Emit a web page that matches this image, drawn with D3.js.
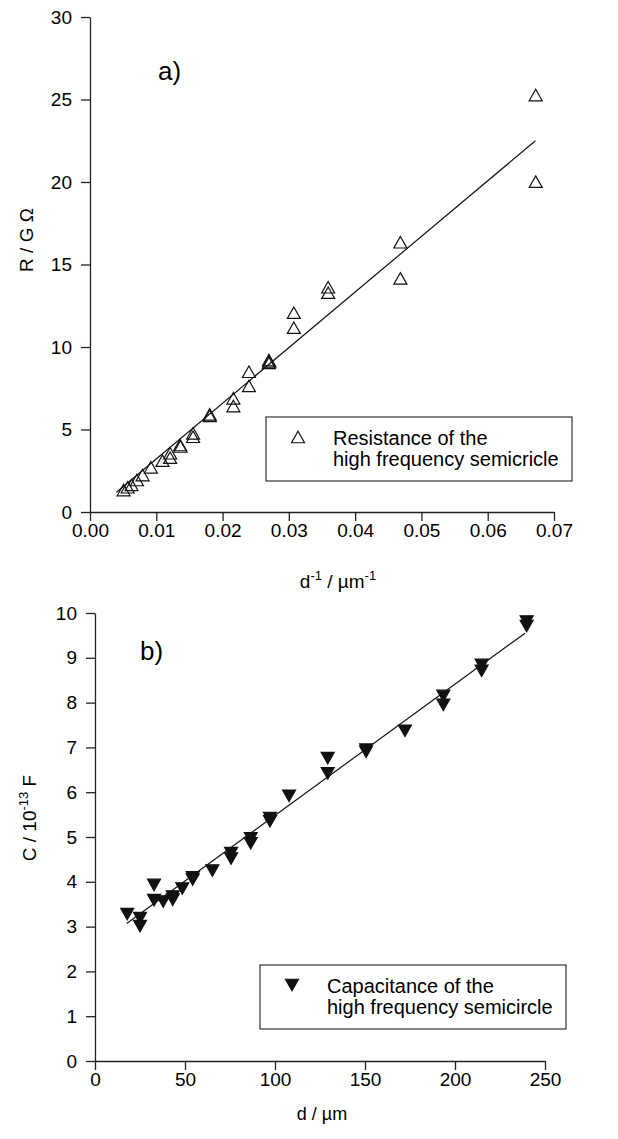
<!DOCTYPE html>
<html><head><meta charset="utf-8">
<script src="https://cdn.jsdelivr.net/npm/d3@7/dist/d3.min.js"></script>
<style>
body{margin:0;background:#fff;}
text{font-family:"Liberation Sans",Arial,Helvetica,sans-serif;fill:#000;}
</style></head><body>
<svg id="chart" width="618" height="1139"></svg>
<script>
// ---- Panel a) : resistance vs inverse thickness ----
const rX = [0.06724, 0.06724, 0.04682, 0.04682, 0.03593, 0.03593, 0.03075, 0.03075,
            0.02699, 0.02705, 0.02699, 0.02398, 0.02398, 0.02163, 0.02163, 0.01806, 0.01806,
            0.01555, 0.01555, 0.01359, 0.01365, 0.01209, 0.01209, 0.01094, 0.00918,
            0.00793, 0.00708, 0.00628, 0.00568, 0.00507];
const rY = [25.27, 20.02, 16.35, 14.16, 13.62, 13.29, 12.08, 11.17,
            9.21, 9.12, 9.04, 8.50, 7.64, 6.89, 6.42, 5.92, 5.82,
            4.77, 4.56, 4.06, 3.97, 3.56, 3.29, 3.11, 2.71,
            2.24, 1.94, 1.64, 1.50, 1.33];
const rFitX = [0.0040, 0.0672];
const rFitY = [1.2, 22.5];
const rXTicks = [0, 0.01, 0.02, 0.03, 0.04, 0.05, 0.06, 0.07];
const rYTicks = [0, 5, 10, 15, 20, 25, 30];
const rLegend = ["Resistance of the", "high frequency semicricle"];

// ---- Panel b) : capacitance vs thickness ----
const cX = [239.8, 239.8, 214.8, 214.8, 193.5, 193.5, 172.2, 150.6, 150.6, 129.3, 129.3,
            107.8, 97.2, 97.2, 86.5, 86.5, 75.6, 75.6, 65.2, 54.3, 54.3, 48.5, 43.2, 43.2,
            37.9, 32.8, 32.8, 25.0, 25.0, 17.9];
const cY = [9.81, 9.71, 8.84, 8.71, 8.15, 7.95, 7.37, 6.95, 6.90, 6.76, 6.42,
            5.92, 5.42, 5.35, 4.97, 4.86, 4.64, 4.52, 4.25, 4.10, 4.05, 3.85, 3.67, 3.60,
            3.56, 3.93, 3.59, 3.19, 3.01, 3.28];
const cFitX = [17.6, 238.9];
const cFitY = [3.07, 9.55];
const cXTicks = [0, 50, 100, 150, 200, 250];
const cYTicks = [0, 1, 2, 3, 4, 5, 6, 7, 8, 9, 10];
const cLegend = ["Capacitance of the", "high frequency semicircle"];

const svg = d3.select("#chart");
svg.append("rect").attr("width", 618).attr("height", 1139).attr("fill", "#fff");

const TW = 13, TH = 11.5;
function triUp(x, y) { return `M${x},${y - TH/2}L${x + TW/2},${y + TH/2}L${x - TW/2},${y + TH/2}Z`; }
function triDown(x, y) { return `M${x},${y + TH/2}L${x + TW/2},${y - TH/2}L${x - TW/2},${y - TH/2}Z`; }

function styleAxis(g) {
  g.select(".domain").attr("stroke", "#222").attr("stroke-width", 1.3);
  g.selectAll(".tick line").attr("stroke", "#222").attr("stroke-width", 1.3);
  g.selectAll(".tick text").attr("font-size", 19).attr("fill", "#000")
    .attr("font-family", '"Liberation Sans", Arial, sans-serif');
}

function panel(o) {
  const x = d3.scaleLinear().domain(o.xDom).range(o.xRange);
  const y = d3.scaleLinear().domain(o.yDom).range(o.yRange);
  const g = svg.append("g");
  g.append("g").attr("transform", `translate(0,${o.yRange[0]})`)
    .call(d3.axisBottom(x).tickValues(o.xTicks).tickFormat(o.xFmt).tickSizeInner(9).tickSizeOuter(0).tickPadding(3))
    .call(styleAxis);
  g.append("g").attr("transform", `translate(${o.xRange[0]},0)`)
    .call(d3.axisLeft(y).tickValues(o.yTicks).tickFormat(d3.format("d")).tickSizeInner(9).tickSizeOuter(0).tickPadding(9))
    .call(styleAxis);
  // fit line
  const line = d3.line().x(d => x(d[0])).y(d => y(d[1]));
  g.append("path").datum(o.fitX.map((v, i) => [v, o.fitY[i]]))
    .attr("d", line).attr("fill", "none").attr("stroke", "#111").attr("stroke-width", 1.2);
  // markers
  g.selectAll("path.pt").data(o.xs.map((v, i) => [v, o.ys[i]])).enter().append("path")
    .attr("class", "pt")
    .attr("d", d => (o.filled ? triDown : triUp)(x(d[0]), y(d[1])))
    .attr("fill", o.filled ? "#111" : "none")
    .attr("stroke", "#111").attr("stroke-width", 1.2);
  // legend
  const L = o.legend;
  g.append("rect").attr("x", L.x).attr("y", L.y).attr("width", L.w).attr("height", L.h)
    .attr("fill", "#fff").attr("stroke", "#333").attr("stroke-width", 1.2);
  g.append("path").attr("d", (o.filled ? triDown : triUp)(L.x + 32, L.y + 20))
    .attr("fill", o.filled ? "#111" : "none").attr("stroke", "#111").attr("stroke-width", 1.2);
  o.legendText.forEach((t, i) => {
    g.append("text").attr("x", L.x + 67).attr("y", L.y + 28 + i * 21).attr("font-size", 20).text(t);
  });
  // panel label
  g.append("text").attr("x", o.tag.x).attr("y", o.tag.y).attr("font-size", 26).text(o.tag.t);
  return {x, y};
}

panel({
  xDom: [0, 0.07], xRange: [90, 554], yDom: [0, 30], yRange: [512, 17],
  xTicks: rXTicks, yTicks: rYTicks, xFmt: d3.format(".2f"),
  xs: rX, ys: rY, fitX: rFitX, fitY: rFitY, filled: false,
  legend: {x: 266, y: 417, w: 306, h: 64}, legendText: rLegend,
  tag: {x: 158, y: 80, t: "a)"}
});

panel({
  xDom: [0, 250], xRange: [95, 545], yDom: [0, 10], yRange: [1061, 613],
  xTicks: cXTicks, yTicks: cYTicks, xFmt: d3.format("d"),
  xs: cX, ys: cY, fitX: cFitX, fitY: cFitY, filled: true,
  legend: {x: 260, y: 965, w: 306, h: 64}, legendText: cLegend,
  tag: {x: 140, y: 660, t: "b)"}
});

// axis titles
const t1 = svg.append("text").attr("x", 338).attr("y", 588).attr("text-anchor", "middle").attr("font-size", 19);
t1.append("tspan").text("d");
t1.append("tspan").attr("dy", -8).attr("font-size", 13).text("-1");
t1.append("tspan").attr("dy", 8).text(" / µm");
t1.append("tspan").attr("dy", -8).attr("font-size", 13).text("-1");

svg.append("text").attr("x", 322).attr("y", 1120).attr("text-anchor", "middle").attr("font-size", 18).text("d / µm");

svg.append("text").attr("transform", "translate(33,240) rotate(-90)").attr("text-anchor", "middle")
  .attr("font-size", 19).text("R / G Ω");

const t4 = svg.append("text").attr("transform", "translate(36,818) rotate(-90)").attr("text-anchor", "middle").attr("font-size", 19);
t4.append("tspan").text("C / 10");
t4.append("tspan").attr("dy", -8).attr("font-size", 13).text("-13");
t4.append("tspan").attr("dy", 8).text(" F");
</script>
</body></html>
